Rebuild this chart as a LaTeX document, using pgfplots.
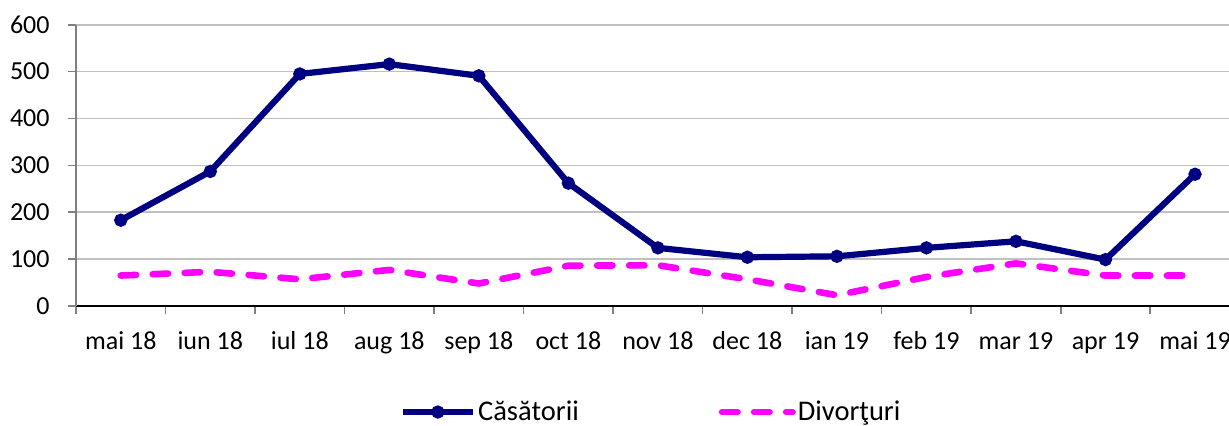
\documentclass[border=0pt]{standalone}
\usepackage{fontspec}
\setmainfont{Carlito}
\usepackage{pgfplots}
\pgfplotsset{compat=1.18}
\definecolor{navyc}{RGB}{0,0,128}
\definecolor{magc}{RGB}{255,0,255}
\definecolor{gridc}{RGB}{192,192,192}
\definecolor{tickc}{RGB}{128,128,128}
\begin{document}
\begin{tikzpicture}
\begin{axis}[
  at={(38pt,59.5pt)}, anchor=south west,
  scale only axis, width=576.5pt, height=140.65pt,
  xmin=-0.5, xmax=12.38, ymin=0, ymax=600,
  axis x line=bottom, axis y line=left,
  axis line style={-},
  x axis line style={black, line width=0.9pt},
  y axis line style={tickc, line width=0.9pt},
  ytick={0,100,...,600},
  ymajorgrids, grid style={gridc, line width=0.8pt},
  tick align=outside, major tick length=4pt,
  tick style={tickc, line width=0.8pt},
  xtick={-0.5,0.5,...,11.5},
  xticklabels={,,,,,,,,,,,,},
  extra x ticks={0,1,...,12},
  extra x tick labels={mai 18,iun 18,iul 18,aug 18,sep 18,oct 18,nov 18,dec 18,ian 19,feb 19,mar 19,apr 19,mai 19},
  extra x tick style={major tick length=0pt, grid=none},
  tick label style={font=\fontsize{13}{15.6}\selectfont},
  /pgf/number format/assume math mode=true,
  xticklabel style={anchor=base, inner sep=0pt, yshift=-21.5pt},
  yticklabel style={anchor=east, inner sep=0pt, xshift=-9pt},
  legend columns=2,
  legend style={at={(axis description cs:0.4987,0)}, anchor=center, yshift=-53pt,
    draw=none, fill=none, font=\fontsize{14.25}{17}\selectfont,
    nodes={inner sep=1pt},
    /tikz/every even column/.append style={column sep=69pt}},
  legend cell align=left,
  legend image code/.code={\draw[#1, mark repeat=2, mark phase=2] plot coordinates {(0pt,0pt) (17.6pt,0pt) (35.2pt,0pt)};},
]
\addplot[navyc, line width=3.1pt, mark=*, mark size=1.7pt, mark options={solid}]
  coordinates {(0,183) (1,287) (2,495) (3,516) (4,491) (5,262) (6,124) (7,104) (8,106) (9,124) (10,138) (11,99) (12,281)};
\addlegendentry{Căsătorii}
\addplot[magc, line width=3.3pt, line cap=round, dash pattern=on 7.7pt off 8.3pt]
  coordinates {(0,65) (1,73) (2,57) (3,77) (4,48) (5,86) (6,87) (7,57) (8,23) (9,62) (10,91) (11,65) (12,65)};
\addlegendentry{Divorţuri}
\end{axis}
\pgfresetboundingbox
\path[use as bounding box] (0,0) rectangle (614.5pt,212.5pt);
\end{tikzpicture}
\end{document}
